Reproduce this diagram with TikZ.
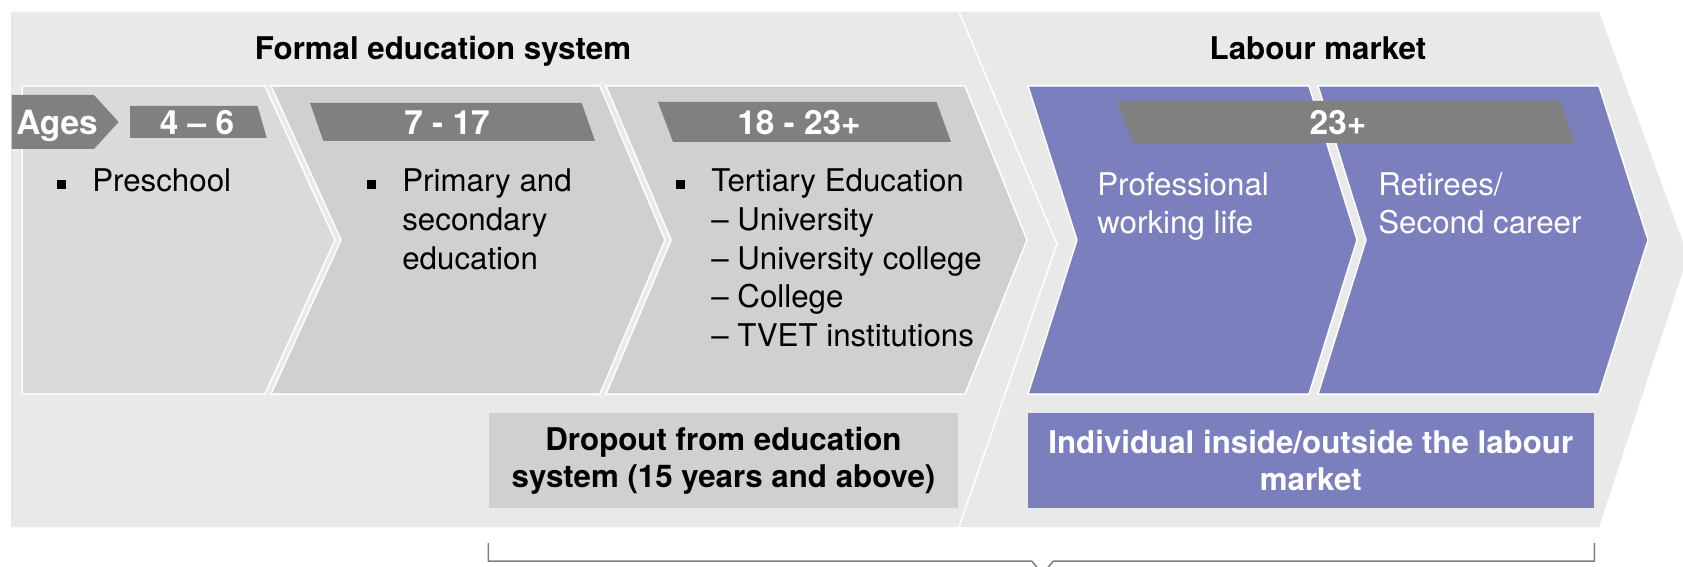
\documentclass[tikz,border=0pt]{standalone}
\usepackage{fontspec}
\setmainfont{TeX Gyre Heros}
\usepackage{xcolor}
\usepackage{tikz}
\usetikzlibrary{positioning}
\definecolor{edubg}{RGB}{233,233,233}
\definecolor{edulight}{RGB}{218,218,218}
\definecolor{edumid}{RGB}{208,208,208}
\definecolor{agegray}{RGB}{128,128,128}
\definecolor{labpurple}{RGB}{123,127,190}
\definecolor{bracegray}{RGB}{127,127,127}
\newcommand{\sqbul}{\rule[0.2ex]{5.2pt}{5.2pt}}
\newcommand{\itemlist}[1]{\begin{tabular}[t]{@{}p{0.7cm}@{}l@{}}#1\end{tabular}}
\newcommand{\twolines}[1]{\begin{tabular}[t]{@{}l@{}}#1\end{tabular}}

\begin{document}
\begin{tikzpicture}[
  x=0.02cm, y=-0.02cm,
  every node/.style={font=\fontsize{17.8}{21.6}\selectfont, inner sep=0pt},
  bgshape/.style={fill=edubg},
  sepline/.style={draw=white,line width=0.03cm},
  edushape/.style={fill=edumid,draw=white,line width=0.03cm},
  labshape/.style={fill=labpurple,draw=white,line width=0.03cm},
  agebox/.style={fill=agegray},
  agetxt/.style={anchor=base,text=white,font=\fontsize{19}{22}\selectfont\bfseries},
  ttl/.style={anchor=base,font=\fontsize{17.8}{21.6}\selectfont\bfseries},
  lst/.style={anchor=base west,font=\fontsize{17.8}{22}\selectfont},
  wlst/.style={anchor=base west,text=white},
  dpbox/.style={fill=edumid,minimum width=9.39cm,minimum height=1.888cm,
    align=center,font=\fontsize{17.8}{21}\selectfont\bfseries},
  lmbox/.style={dpbox,fill=labpurple,text=white,minimum width=11.33cm},
  brk/.style={draw=bracegray,line width=0.03cm}
]
\clip (0,0) rectangle (1683,567);

% Tier backgrounds
\path[bgshape] (11,12) -- (959,12) -- (1057,244) -- (959,527) -- (11,527) -- cycle;
\path[bgshape] (959,12) -- (1599,12) -- (1688,256) -- (1599,527) -- (959,527) -- (1057,244) -- cycle;
\draw[sepline] (959,12) -- (1057,244) -- (959,527);

% Education chevrons
\draw[edushape,fill=edulight] (22,86) -- (265,86) -- (335,240) -- (265,394) -- (22,394) -- cycle;
\draw[edushape] (271,86) -- (600,86) -- (665,240) -- (600,394) -- (271,394) -- (341,240) -- cycle;
\draw[edushape] (606,86) -- (965,86) -- (1027,240) -- (965,394) -- (606,394) -- (671,240) -- cycle;

% Labour market chevrons
\draw[labshape] (1028,86) -- (1309,86) -- (1357,240) -- (1309,394) -- (1028,394) -- (1077,240) -- cycle;
\draw[labshape] (1318,86) -- (1599,86) -- (1648,240) -- (1599,394) -- (1318,394) -- (1366,240) -- cycle;

% Age tags
\fill[agebox] (11.5,95) -- (94,95) -- (118.6,122) -- (94,149) -- (11.5,149) -- cycle;
\fill[agebox] (130,106) -- (257.6,106) -- (266.7,138) -- (130,138) -- cycle;
\fill[agebox] (310,103) -- (581.7,103) -- (595,141) -- (323.4,141) -- cycle;
\fill[agebox] (658,102) -- (936.5,102) -- (951,142) -- (673,142) -- cycle;
\fill[agebox] (1117,101) -- (1560,101) -- (1575,143) -- (1133,143) -- cycle;

\node[agetxt] (ages)  at (57,135)   {Ages};
\node[agetxt] (a46)   at (197,135)  {4 – 6};
\node[agetxt] (a717)  at (447,135)  {7 - 17};
\node[agetxt] (a1823) at (799,135)  {18 - 23+};
\node[agetxt] (a23)   at (1338,135) {23+};

% Titles
\node[ttl] (edu) at (443,60)  {Formal education system};
\node[ttl] (lab) at (1318,60) {Labour market};

% Stage contents
\node[lst] (pre)  at (57,192)  {\itemlist{\sqbul & Preschool}};
\node[lst] (prim) at (367,192) {\itemlist{\sqbul & Primary and\\ & secondary\\ & education}};
\node[lst] (tert) at (676,192)
  {\itemlist{\sqbul & Tertiary Education\\ & – University\\ & – University college\\
             & – College\\ & – TVET institutions}};
\node[wlst] (prof) at (1097,196) {\twolines{Professional\\working life}};
\node[wlst] (retr) at (1378,196) {\twolines{Retirees/\\Second career}};

% Bottom boxes
\node[dpbox] (drop)  at (723.5,460.5)  {Dropout from education\\system (15 years and above)};
\node[lmbox] (indiv) at (1310.8,460.5) {Individual inside/outside the labour\\market};

% Bracket under both boxes
\coordinate (brtip) at (1042.5,574);
\draw[brk] ([yshift=-0.7cm]drop.south west) -- ([yshift=-1.06cm]drop.south west)
  -- ([xshift=-0.216cm,yshift=0.26cm]brtip) -- (brtip)
  -- ([xshift=0.216cm,yshift=0.26cm]brtip)
  -- ([yshift=-1.06cm]indiv.south east) -- ([yshift=-0.7cm]indiv.south east);

\end{tikzpicture}
\end{document}
